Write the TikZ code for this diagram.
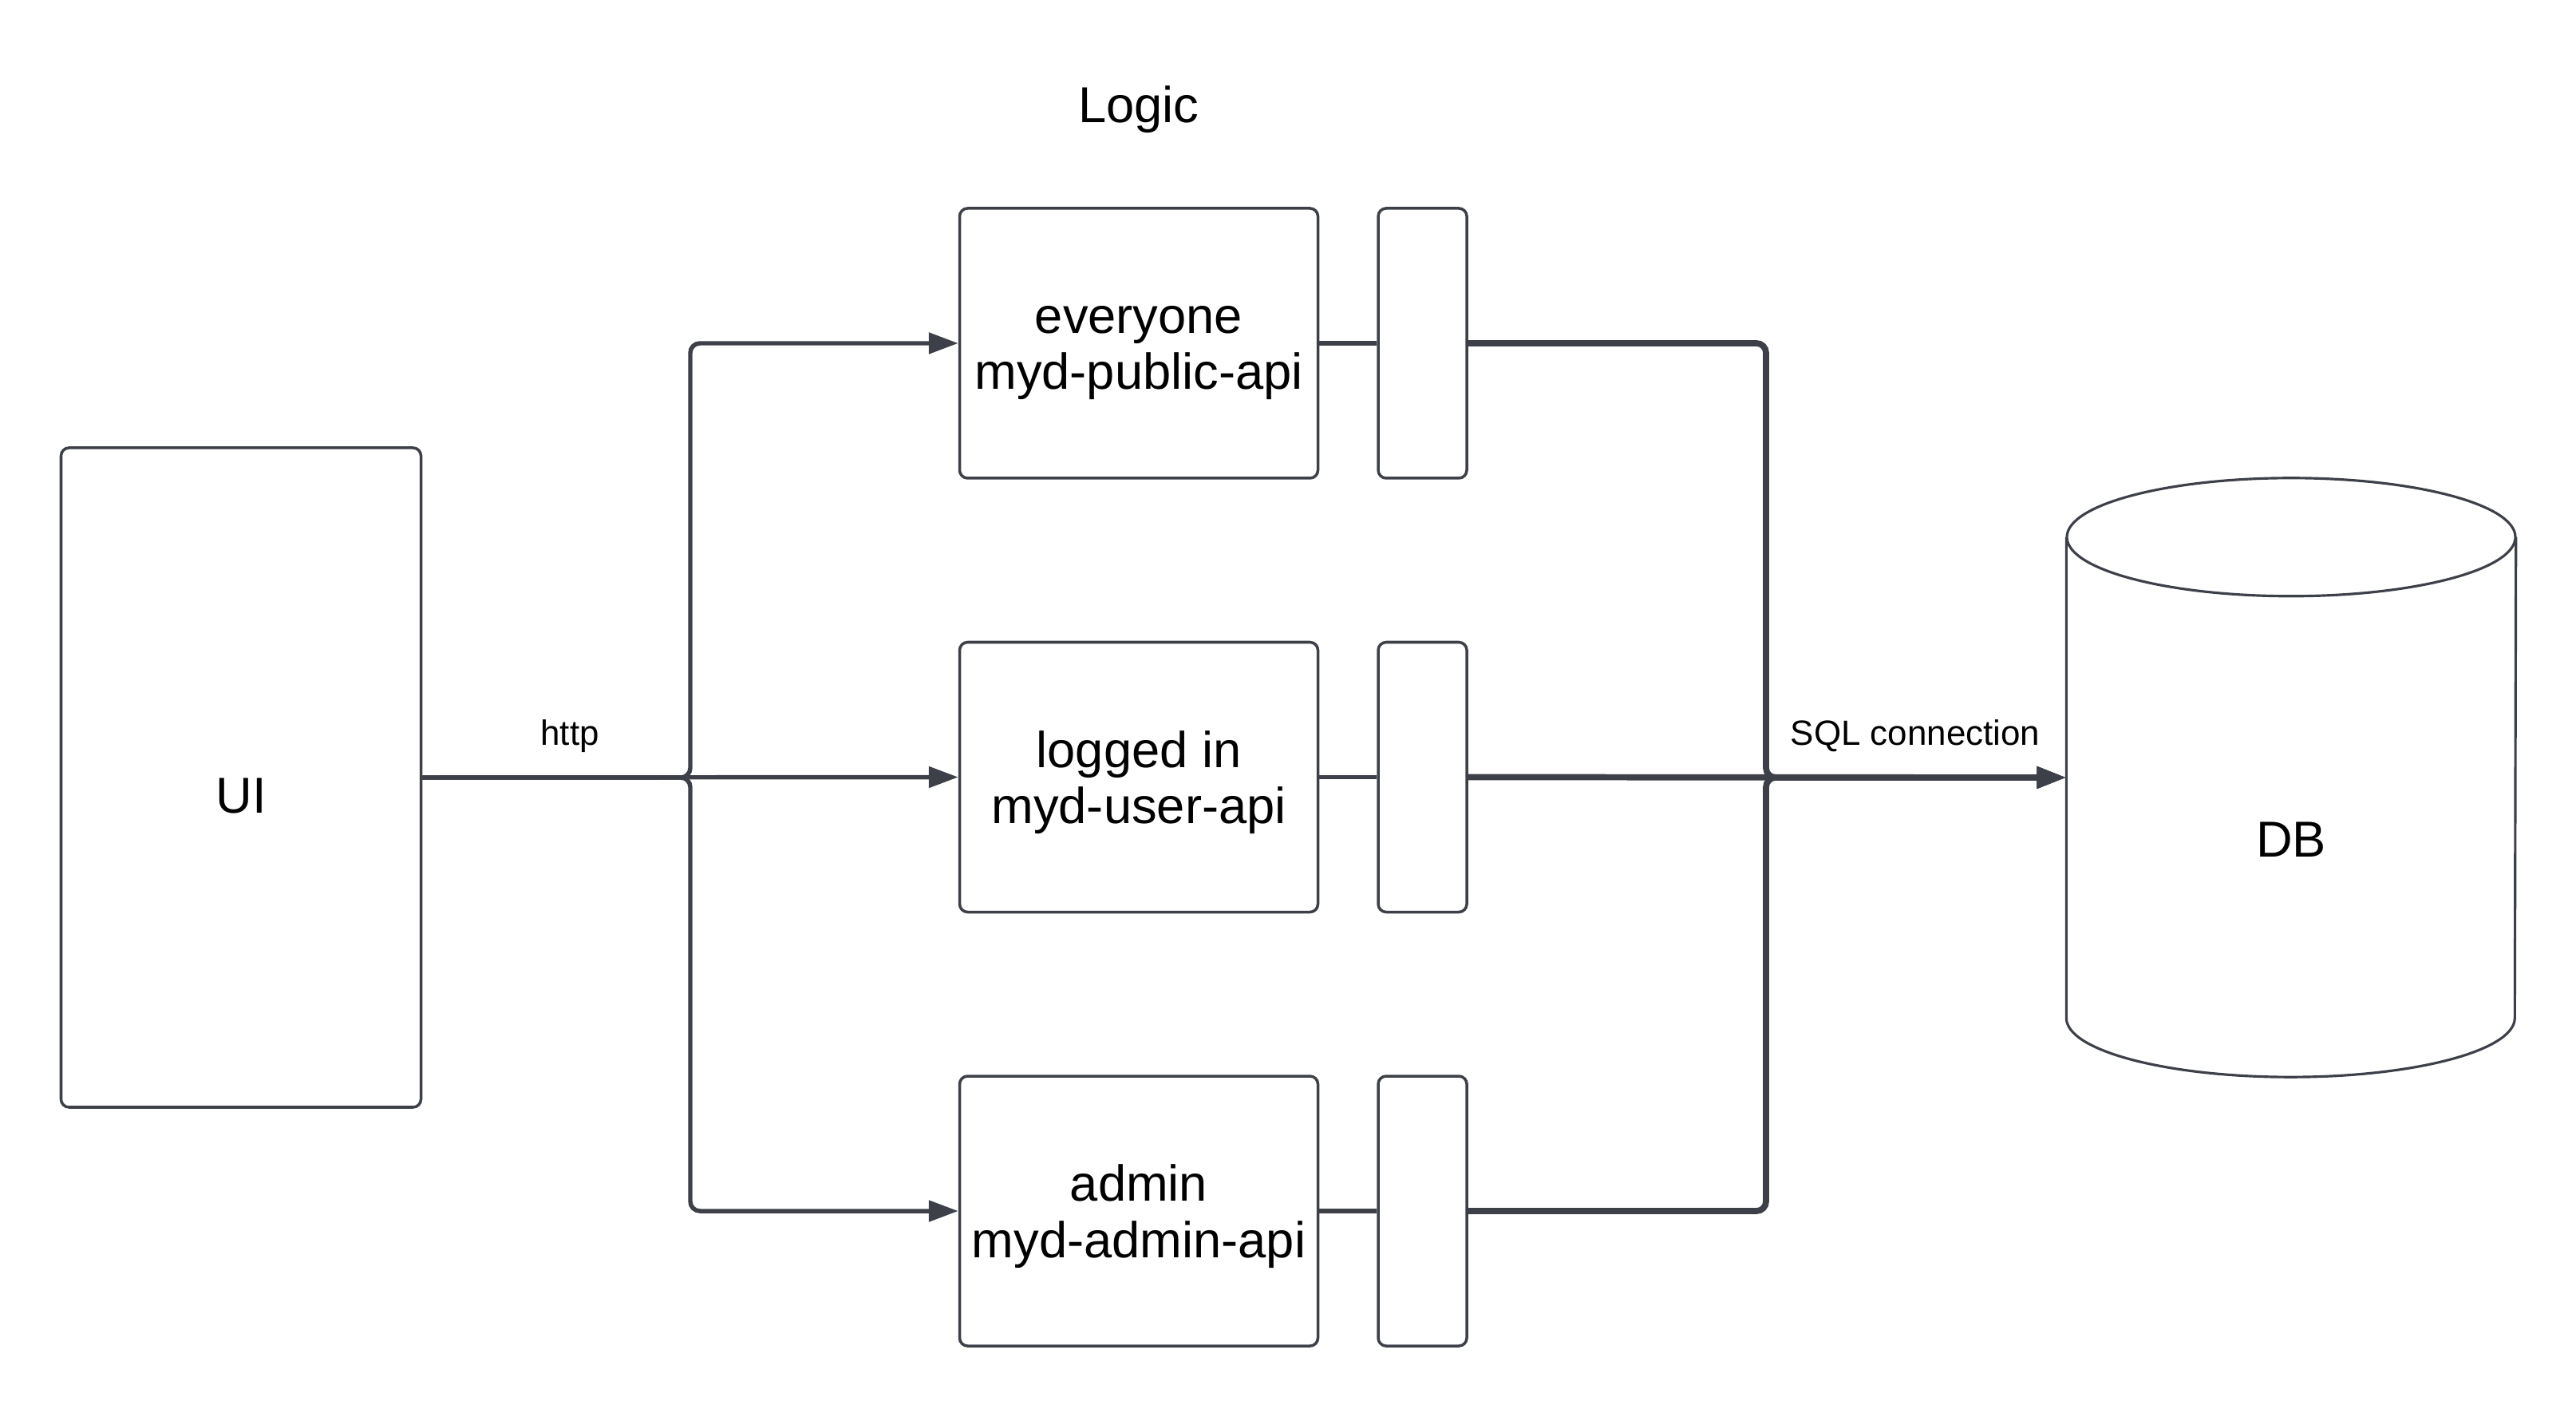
\documentclass[tikz,border=0pt]{standalone}
\usepackage{fontspec}
\setmainfont{Liberation Sans}
\usetikzlibrary{positioning, arrows.meta}
\definecolor{wire}{HTML}{3D4048}
\tikzset{>={Triangle[length=3.7mm,width=2.6mm]}}
\newcommand{\tallstrut}{\rule{0pt}{19pt}}

\begin{document}
\begin{tikzpicture}[
    big/.style={font=\fontsize{18}{20}\selectfont},
    lbl/.style={font=\fontsize{12.5}{15}\selectfont, anchor=base},
    box/.style={draw=wire, line width=1pt, rounded corners=1mm, align=center, inner sep=0pt, big},
    api/.style={box, minimum width=4.49cm, minimum height=3.38cm},
    gate/.style={box, minimum width=1.11cm, minimum height=3.38cm},
    conn/.style={draw=wire, line width=1.55pt, rounded corners=1.2mm},
    sql/.style={conn, line width=2.2pt},
    dbline/.style={draw=wire, line width=0.9pt}
  ]
  \useasboundingbox (0,0) rectangle (32.28,17.64);

  % client and services
  \node[box, minimum width=4.51cm, minimum height=8.26cm] (ui) at (3.02,7.9) {};
  \node[big, anchor=base] (uilabel) at ([yshift=-0.45cm]ui.center) {UI};
  \node[api] (pub) at (14.27,13.34) {\tallstrut everyone\\myd-public-api\strut};
  \node[api, below=2.02cm of pub] (usr) {\tallstrut logged in\\myd-user-api\strut};
  \node[api, below=2.02cm of usr] (adm) {\tallstrut admin\\myd-admin-api\strut};
  \node[big, anchor=base] (logic) at (14.27,16.10) {Logic};

  \node[gate, right=0.72cm of pub] (pubgate) {};
  \node[gate, right=0.72cm of usr] (usrgate) {};
  \node[gate, right=0.72cm of adm] (admgate) {};

  % database
  \node[minimum width=5.62cm, minimum height=7.49cm] (db) at (28.71,7.9) {};
  \draw[dbline] ([yshift=-0.74cm]db.north west) -- ([yshift=0.74cm]db.south west)
    arc[start angle=180, end angle=360, x radius=2.81cm, y radius=0.74cm]
    -- ([yshift=-0.74cm]db.north east);
  \draw[dbline] ([yshift=-0.74cm]db.north) ellipse[x radius=2.81cm, y radius=0.74cm];
  \node[big, anchor=base] (dblabel) at ([yshift=-1.0cm]db.center) {DB};

  % http side
  \coordinate (hubl) at (8.65,7.9);
  \draw[conn, ->] (ui.east) -- (hubl) |- (pub.west);
  \draw[conn, ->] (ui.east) -- (usr.west);
  \draw[conn, ->] (ui.east) -- (hubl) |- (adm.west);
  \node[lbl] (http) at (7.14,8.30) {http};

  % sql side
  \coordinate (hubr) at (22.13,7.9);
  \draw[conn] (pub.east) -- (pubgate.west);
  \draw[conn] (usr.east) -- (usrgate.west);
  \draw[conn] (adm.east) -- (admgate.west);
  \draw[sql, ->] (pubgate.east) -| (hubr) -- (db.west);
  \draw[sql, ->] (usrgate.east) -- (db.west);
  \draw[sql, ->] (admgate.east) -| (hubr) -- (db.west);
  \node[lbl] (sqllabel) at (24.0,8.30) {SQL connection};
\end{tikzpicture}
\end{document}
